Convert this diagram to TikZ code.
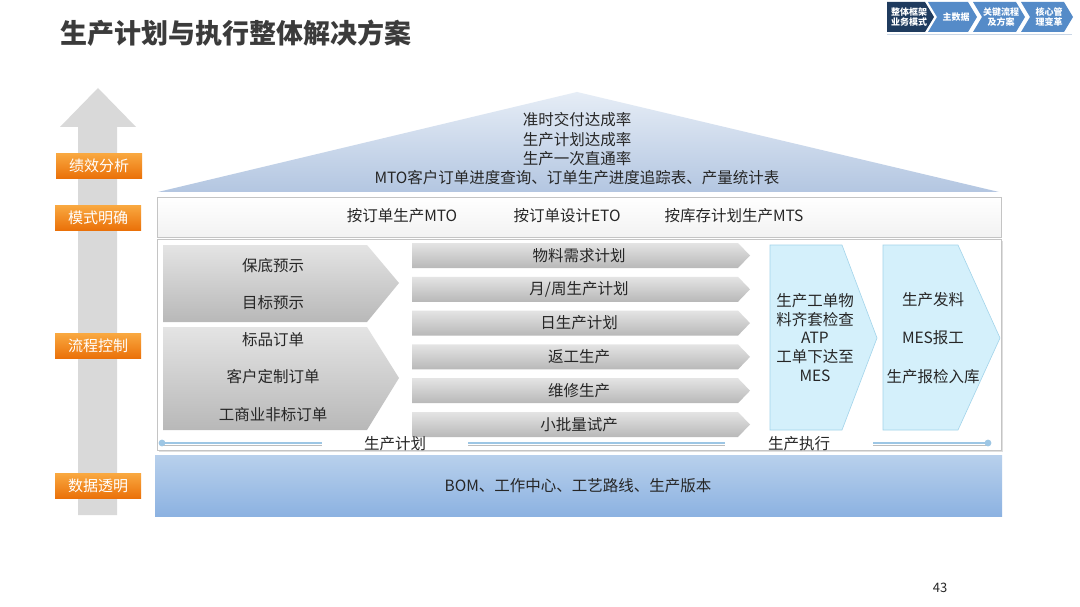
\documentclass[tikz,border=0pt]{standalone}
\usepackage{fontspec}
\setmainfont{Noto Sans CJK SC}
\definecolor{titlegray}{HTML}{3B3B3B}
\definecolor{navdark}{HTML}{1F3B5E}
\definecolor{navblue}{HTML}{558BC8}
\definecolor{navline}{HTML}{C9D6E6}
\definecolor{orangeA}{HTML}{F9A840}
\definecolor{orangeB}{HTML}{EA7008}
\definecolor{arrowgray}{HTML}{D9D9D9}
\definecolor{roofA}{HTML}{E6EDF6}
\definecolor{roofB}{HTML}{B3C6E1}
\definecolor{frameline}{HTML}{C4C4C4}
\definecolor{barA}{HTML}{E4E4E4}
\definecolor{barB}{HTML}{B8B8B8}
\definecolor{cyanfill}{HTML}{D4F0FB}
\definecolor{cyanline}{HTML}{A3D4EA}
\definecolor{tline}{HTML}{9DC6E4}
\definecolor{tshadow}{HTML}{BDBDBD}
\definecolor{dataA}{HTML}{B8D0EC}
\definecolor{dataB}{HTML}{8CB2E1}
\definecolor{txt}{HTML}{262626}
\begin{document}
\begin{tikzpicture}[x=1pt,y=-1pt,
  body/.style={font=\fontsize{15.5}{18.8}\selectfont, text=txt, inner sep=0pt, align=center},
  navtext/.style={font=\fontsize{9}{10.5}\selectfont\bfseries, text=white, inner sep=0pt, align=center},
  navshape/.style={fill=navblue},
  orangelabel/.style={rectangle, minimum width=86pt, minimum height=25pt, inner sep=0pt,
    top color=orangeA, bottom color=orangeB, text=white, font=\fontsize{15}{18}\selectfont},
  graychev/.style={top color=barA, bottom color=barB},
  cyanchev/.style={fill=cyanfill, draw=cyanline, line width=0.6pt},
  tl/.style={tline, line width=2.8pt},
  tlshadow/.style={tshadow, line width=1.2pt}
]
\useasboundingbox (0,0) rectangle (1080,607);
\fill[white] (0,0) rectangle (1080,607);

% title
\node[anchor=west, inner sep=0pt, font=\fontsize{27}{30}\selectfont\bfseries, text=titlegray] (title) at (60,33) {生产计划与执行整体解决方案};

% navigation
\draw[navline, line width=1pt] (887,34.5) -- (1072,34.5);
\fill[navdark] (887,2) -- (925,2) -- (934,17) -- (925,32) -- (887,32) -- cycle;
\fill[navshape] (928,2) -- (968,2) -- (977,17) -- (968,32) -- (928,32) -- (937,17) -- cycle;
\fill[navshape] (973,2) -- (1016,2) -- (1025,17) -- (1016,32) -- (973,32) -- (982,17) -- cycle;
\fill[navshape] (1021,2) -- (1064,2) -- (1073,17) -- (1064,32) -- (1021,32) -- (1030,17) -- cycle;
\node[navtext] (nav1) at (909,17) {整体框架\\业务模式};
\node[navtext] (nav2) at (956,17) {主数据};
\node[navtext] (nav3) at (1001,17) {关键流程\\及方案};
\node[navtext] (nav4) at (1049,17) {核心管\\理变革};

% big up arrow
\fill[arrowgray] (78,515) -- (78,127) -- (60,127) -- (98,88) -- (136,127) -- (117,127) -- (117,515) -- cycle;

% orange labels
\node[orangelabel] (l1) at (99,166) {绩效分析};
\node[orangelabel] (l2) at (98,218) {模式明确};
\node[orangelabel] (l3) at (98,346) {流程控制};
\node[orangelabel] (l4) at (98,486) {数据透明};

% roof
\shade[top color=roofA, bottom color=roofB] (577,92) -- (999,192) -- (158,192) -- cycle;
\node[body] (r1) at (577,120) {准时交付达成率};
\node[body] (r2) at (577,140) {生产计划达成率};
\node[body] (r3) at (577,159) {生产一次直通率};
\node[body] (r4) at (577,178) {MTO客户订单进度查询、订单生产进度追踪表、产量统计表};

% mode band
\shade[top color=white, bottom color=gray!10] (157,197) rectangle (1001,237);
\draw[frameline, line width=0.8pt] (157,197) rectangle (1001,237);
\node[body] (m1) at (402,216) {按订单生产MTO};
\node[body] (m2) at (567,216) {按订单设计ETO};
\node[body] (m3) at (734,216) {按库存计划生产MTS};

% main frame
\fill[gray!25] (159,241) rectangle (1003,452);
\draw[frameline, fill=white, line width=0.8pt] (157,239) rectangle (1001,450);

% left chevrons
\shade[graychev] (163,245) -- (367,245) -- (399,283) -- (367,322) -- (163,322) -- cycle;
\shade[graychev] (163,327) -- (367,327) -- (399,378) -- (367,430) -- (163,430) -- cycle;
\node[body] (a1) at (273,266) {保底预示};
\node[body] (a2) at (273,303) {目标预示};
\node[body] (a3) at (273,340) {标品订单};
\node[body] (a4) at (273,377) {客户定制订单};
\node[body] (a5) at (273,415) {工商业非标订单};

% middle bars
\foreach \i/\t in {0/{物料需求计划},1/{月/周生产计划},2/{日生产计划},3/{返工生产},4/{维修生产},5/{小批量试产}}{
  \pgfmathsetmacro{\yt}{243+33.8*\i}
  \pgfmathsetmacro{\yb}{\yt+25}
  \pgfmathsetmacro{\ym}{\yt+12.5}
  \shade[graychev] (412,\yt) -- (738,\yt) -- (750,\ym) -- (738,\yb) -- (412,\yb) -- cycle;
  \node[body] (b\i) at (579,\ym) {\t};
}

% cyan chevrons
\draw[cyanchev] (770,245) -- (842,245) -- (877,338) -- (842,430) -- (770,430) -- cycle;
\draw[cyanchev] (883,245) -- (958,245) -- (1000,338) -- (958,430) -- (883,430) -- cycle;
\node[body] (e1) at (815,337.5) {生产工单物\\料齐套检查\\ATP\\工单下达至\\MES};
\node[body] (f1) at (933,300) {生产发料};
\node[body] (f2) at (933,338) {MES报工};
\node[body] (f3) at (933,377) {生产报检入库};

% timeline
\coordinate (t0) at (162,443);
\coordinate (t1) at (322,443);
\coordinate (t2) at (468,443);
\coordinate (t3) at (725,443);
\coordinate (t4) at (873,443);
\coordinate (t5) at (988,443);
\draw[tlshadow] ([yshift=-2.2pt]t0) -- ([yshift=-2.2pt]t1);
\draw[tlshadow] ([yshift=-2.2pt]t2) -- ([yshift=-2.2pt]t3);
\draw[tlshadow] ([yshift=-2.2pt]t4) -- ([yshift=-2.2pt]t5);
\draw[tl] (t0) -- (t1);
\draw[tl] (t2) -- (t3);
\draw[tl] (t4) -- (t5);
\fill[tline] (t0) circle (3.4pt);
\fill[tline] (t5) circle (3.4pt);
\node[body] (p1) at (395,444) {生产计划};
\node[body] (p2) at (799,444) {生产执行};

% data box
\shade[top color=dataA, bottom color=dataB] (155,455) rectangle (1002,516);
\node[body] (d1) at (578,486) {BOM、工作中心、工艺路线、生产版本};

% page number
\node[inner sep=0pt, font=\fontsize{13}{15}\selectfont, text=txt] (pg) at (940,588) {43};
\end{tikzpicture}
\end{document}
